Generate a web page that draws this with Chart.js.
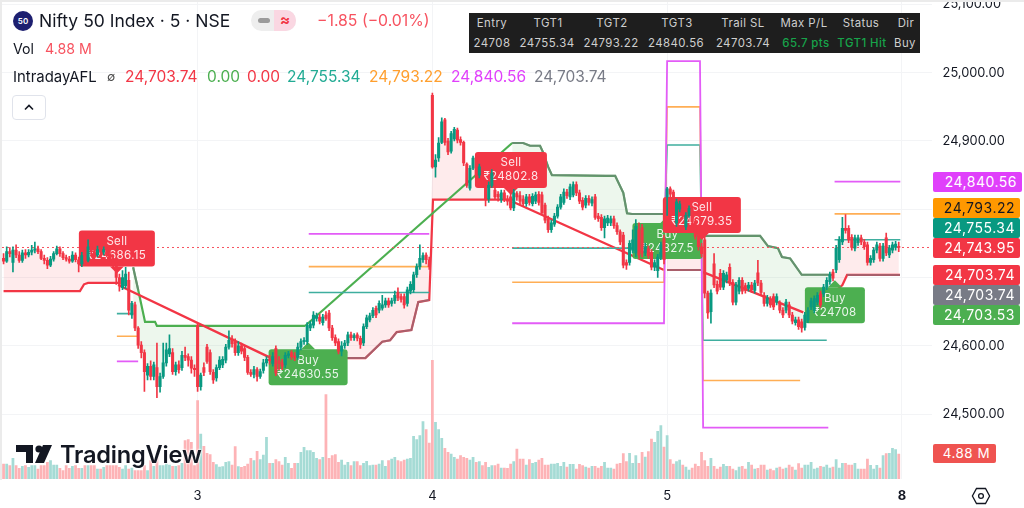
<!DOCTYPE html>
<html>
<head>
<meta charset="utf-8">
<title>Nifty 50 Index · 5 · NSE</title>
<script src="https://cdn.jsdelivr.net/npm/chart.js@4/dist/chart.umd.min.js"></script>
<style>
  html, body { margin: 0; padding: 0; background: #fff; overflow: hidden; }
  body { width: 1024px; height: 508px; position: relative; font-family: Inter, "Noto Sans", sans-serif; color: #131722; }
  canvas { position: absolute; left: 0; top: 0; }
  .edge-top  { position: absolute; left: 0; top: 0; width: 1024px; height: 2px; background: #ebebeb; }
  .edge-left { position: absolute; left: 0; top: 0; width: 2px; height: 480px; background: #ebebeb; }
  .abs { position: absolute; white-space: nowrap; }

  /* legend block */
  .badge { left: 13px; top: 11px; width: 20px; height: 20px; border-radius: 50%; background: #1d1f70; color: #fff;
           font-size: 8px; font-weight: 600; line-height: 20px; text-align: center; }
  .title { left: 39px; top: 10px; font-size: 17.5px; line-height: 22px; color: #131722; }
  .pill  { left: 251px; top: 10px; width: 45px; height: 21px; border-radius: 10.5px; overflow: hidden; background: #eeeeee; }
  .pill i { position: absolute; left: 7px; top: 8px; width: 12px; height: 5px; border-radius: 2.5px; background: #9b9b9b; }
  .pill b { position: absolute; left: 23px; top: 0; width: 22px; height: 21px; background: #fad7e2; color: #f23645;
            font-size: 15px; line-height: 20px; text-align: center; font-weight: 700; }
  .change { left: 317px; top: 12px; font-size: 15.8px; line-height: 18px; color: #f7525f; }
  .vol-name { left: 13px; top: 40px; font-size: 14.2px; line-height: 18px; }
  .vol-val  { left: 45px; top: 40px; font-size: 14.2px; line-height: 18px; color: #f7525f; }
  .ind-row  { left: 13px; top: 68px; font-size: 15.5px; line-height: 18px; }
  .ind-row span { position: absolute; top: 0; }
  .collapse { left: 12px; top: 95px; width: 32px; height: 23px; border: 1px solid #e0e3eb; border-radius: 4px; background: #fff; }

  /* info table */
  .info { left: 469px; top: 13px; width: 451px; height: 40px; background: #1e1e1e; color: #cfcfcf; font-size: 11.4px; letter-spacing: .45px; }
  .info span { position: absolute; transform: translateX(-50%); line-height: 14px; }
  .info .good { color: #17a34a; font-weight: 500; }

  /* price tags */
  .tag { position: absolute; left: 933px; height: 20px; line-height: 20px; border-radius: 2px; color: #fff; font-size: 14px;
         text-align: right; padding-right: 5px; box-sizing: border-box; width: 87px; letter-spacing: .5px; }
  .watermark { left: 60px; top: 440px; font-size: 23.6px; font-weight: 600; line-height: 30px; color: #131722; letter-spacing: -.2px;
               text-shadow: 0 0 2px #fff, 0 0 2px #fff, 0 0 3px #fff; }
</style>
</head>
<body>
<canvas id="chart" width="1024" height="508"></canvas>
<div class="edge-top"></div>
<div class="edge-left"></div>

<div class="abs badge">50</div>
<div class="abs title">Nifty 50 Index · 5 · NSE</div>
<div class="abs pill"><i></i><b>≈</b></div>
<div class="abs change">−1.85 (−0.01%)</div>
<div class="abs vol-name">Vol</div>
<div class="abs vol-val">4.88 M</div>
<div class="abs ind-row">
  <span style="left:0;font-size:14.9px">IntradayAFL</span>
  <span style="left:94px;font-size:12px;color:#444">∅</span>
  <span style="left:112px;color:#f23645">24,703.74</span>
  <span style="left:194px;color:#4caf50">0.00</span>
  <span style="left:234px;color:#f23645">0.00</span>
  <span style="left:274px;color:#22ab94">24,755.34</span>
  <span style="left:356px;color:#ff9f2e">24,793.22</span>
  <span style="left:438px;color:#e040fb">24,840.56</span>
  <span style="left:521px;color:#787b86">24,703.74</span>
</div>
<div class="abs collapse">
  <svg width="32" height="23" viewBox="0 0 32 23"><path d="M12 13.5 L16 9.5 L20 13.5" fill="none" stroke="#131722" stroke-width="1.6"/></svg>
</div>

<div class="abs info">
  <span style="left:23px;top:3px">Entry</span><span style="left:79px;top:3px">TGT1</span><span style="left:143px;top:3px">TGT2</span>
  <span style="left:208px;top:3px">TGT3</span><span style="left:274px;top:3px">Trail SL</span><span style="left:335px;top:3px">Max P/L</span>
  <span style="left:392px;top:3px">Status</span><span style="left:437px;top:3px">Dir</span>
  <span style="left:23px;top:23px">24708</span><span style="left:78px;top:23px">24755.34</span><span style="left:142px;top:23px">24793.22</span>
  <span style="left:207px;top:23px">24840.56</span><span style="left:274px;top:23px">24703.74</span><span class="good" style="left:337px;top:23px">65.7 pts</span>
  <span class="good" style="left:393px;top:23px">TGT1 Hit</span><span style="left:436px;top:23px">Buy</span>
</div>

<div class="tag" style="top:172px;background:#e040fb;width:89px">24,840.56</div>
<div class="tag" style="top:198px;background:#ff9800;color:#131722">24,793.22</div>
<div class="tag" style="top:218px;background:#089981">24,755.34</div>
<div class="tag" style="top:238px;background:#f23645">24,743.95</div>
<div class="tag" style="top:265px;background:#f23645">24,703.74</div>
<div class="tag" style="top:285px;background:#787b86">24,703.74</div>
<div class="tag" style="top:305px;background:#4caf50">24,703.53</div>
<div class="tag" style="top:444px;background:#ef5350;width:63px;height:19px;line-height:19px;padding-right:6px;font-size:13.4px">4.88 M</div>

<svg class="abs" style="left:14px;top:443px" width="42" height="24" viewBox="0 0 42 24">
  <path d="M2 2 H19 V20 H12 V9 H2 Z M38 2 L30 20 H21 L29 2 Z" fill="#131722"/>
  <circle cx="25" cy="6" r="3.6" fill="#131722"/>
</svg>
<div class="abs watermark">TradingView</div>

<svg class="abs" style="left:971px;top:486px" width="20" height="20" viewBox="0 0 20 20">
  <path d="M5.5 2.5 H14.5 L18.6 10 L14.5 17.5 H5.5 L1.4 10 Z" fill="none" stroke="#131722" stroke-width="1.3"/>
  <circle cx="10" cy="10" r="2.4" fill="none" stroke="#131722" stroke-width="1.3"/>
</svg>

<script>
"use strict";

// ── Axis data ─────────────────────────────────────────────
const dayTickBars   = [62, 137, 212, 287];
const dayTickLabels = ["3", "4", "5", "8"];
const priceTicks    = [24500, 24600, 24700, 24800, 24900, 25000, 25100];
const lastPrice     = 24743.95;

// ── Candles (one entry per 5 minute bar) ──────────────────
const opens = [
  24728,24724,24738,24722,24740,24733,24725,24736,24733,24737,
  24740,24742,24738,24728,24725,24718,24727,24735,24742,24735,
  24729,24727,24724,24733,24726,24720,24732,24725,24745,24738,
  24733,24741,24737,24741,24734,24728,24718,24700,24685,24688,
  24696,24645,24660,24626,24601,24590,24557,24570,24555,24568,
  24540,24555,24575,24588,24590,24562,24572,24568,24586,24584,
  24579,24567,24630,24540,24568,24598,24590,24561,24553,24568,
  24572,24579,24598,24610,24605,24590,24600,24596,24583,24561,
  24558,24565,24555,24564,24575,24580,24574,24596,24578,24575,
  24572,24586,24590,24585,24583,24598,24606,24606,24626,24630,
  24640,24642,24634,24645,24648,24626,24612,24606,24592,24600,
  24604,24616,24612,24616,24611,24604,24628,24638,24644,24655,
  24652,24655,24660,24666,24662,24666,24678,24672,24672,24662,
  24680,24682,24704,24716,24726,24733,24726,24967,24862,24875,
  24898,24931,24900,24885,24903,24916,24902,24898,24866,24831,
  24860,24875,24850,24860,24835,24815,24835,24828,24822,24814,
  24824,24815,24818,24802,24823,24820,24815,24808,24818,24808,
  24812,24822,24821,24806,24786,24770,24778,24790,24803,24810,
  24825,24818,24821,24836,24824,24813,24806,24816,24809,24818,
  24790,24788,24773,24780,24780,24786,24776,24767,24762,24722,
  24722,24740,24736,24770,24773,24736,24742,24737,24715,24710,
  24730,24757,24818,24830,24825,24780,24800,24798,24774,24791,
  24800,24782,24760,24745,24755,24677,24650,24720,24690,24706,
  24686,24696,24715,24693,24664,24680,24696,24688,24684,24689,
  24681,24707,24692,24674,24662,24668,24672,24664,24662,24652,
  24652,24660,24645,24634,24638,24635,24627,24638,24657,24652,
  24664,24676,24676,24686,24694,24708,24711,24726,24752,24772,
  24772,24759,24743,24751,24758,24752,24748,24722,24726,24740,
  24746,24728,24758,24733,24740,24744,24745.8
];
const closes = [
  24724,24738,24735,24740,24733,24725,24736,24733,24737,24740,
  24742,24738,24728,24725,24718,24727,24735,24742,24735,24729,
  24727,24724,24733,24726,24720,24732,24725,24745,24738,24733,
  24741,24737,24741,24734,24728,24718,24700,24690,24700,24705,
  24652,24662,24626,24601,24590,24562,24570,24555,24572,24540,
  24555,24575,24594,24596,24562,24572,24565,24586,24583,24579,
  24567,24565,24540,24557,24561,24577,24562,24550,24568,24579,
  24580,24598,24608,24603,24590,24600,24592,24583,24561,24558,
  24565,24555,24562,24575,24580,24578,24584,24560,24574,24570,
  24586,24588,24584,24582,24598,24606,24608,24630,24632,24645,
  24644,24636,24642,24640,24626,24612,24604,24592,24600,24604,
  24616,24612,24615,24611,24602,24628,24641,24644,24652,24645,
  24662,24660,24666,24660,24666,24674,24670,24668,24660,24682,
  24690,24704,24716,24728,24732,24726,24716,24862,24872,24897,
  24928,24898,24884,24911,24917,24901,24898,24868,24835,24860,
  24875,24850,24862,24842,24814,24835,24853,24818,24818,24824,
  24815,24812,24802,24824,24818,24812,24808,24818,24810,24819,
  24821,24810,24795,24784,24770,24780,24790,24803,24818,24825,
  24820,24833,24836,24824,24812,24803,24816,24810,24814,24788,
  24786,24773,24786,24787,24786,24776,24767,24752,24718,24718,
  24750,24755,24775,24733,24736,24745,24732,24715,24722,24730,
  24748,24726,24830,24822,24800,24811,24808,24790,24791,24801,
  24782,24760,24745,24735,24677,24648,24677,24689,24680,24686,
  24706,24704,24693,24664,24689,24696,24680,24681,24689,24682,
  24692,24692,24678,24662,24670,24660,24657,24672,24652,24645,
  24664,24645,24636,24638,24628,24626,24645,24652,24666,24669,
  24674,24660,24686,24696,24704,24699,24743,24755,24772,24769,
  24755,24744,24758,24758,24752,24745,24722,24728,24740,24748,
  24728,24746,24736,24743,24748,24749,24743.95
];
const highs = [
  24735,24745,24744,24745,24748,24738,24740,24741,24741,24747,
  24752,24746,24741,24733,24729,24731,24738,24746,24745,24738,
  24733,24731,24738,24736,24730,24737,24740,24755,24750,24743,
  24746,24745,24745,24744,24738,24731,24722,24705,24710,24715,
  24708,24665,24664,24628,24606,24594,24574,24578,24576,24604,
  24560,24604,24604,24616,24596,24576,24578,24592,24598,24588,
  24584,24572,24632,24560,24575,24602,24594,24565,24572,24584,
  24584,24602,24622,24615,24610,24606,24604,24600,24586,24565,
  24570,24568,24566,24580,24584,24586,24590,24600,24584,24580,
  24590,24592,24593,24590,24604,24610,24612,24634,24636,24650,
  24648,24646,24646,24650,24652,24630,24616,24610,24606,24608,
  24620,24620,24618,24619,24614,24632,24645,24648,24656,24658,
  24666,24674,24670,24670,24670,24680,24685,24676,24676,24686,
  24694,24708,24720,24748,24736,24736,24730,24970,24880,24905,
  24934,24933,24904,24914,24920,24919,24906,24900,24868,24864,
  24878,24878,24866,24864,24840,24840,24858,24832,24826,24828,
  24828,24820,24824,24829,24826,24826,24820,24822,24822,24823,
  24825,24826,24825,24809,24790,24784,24794,24807,24822,24830,
  24829,24837,24840,24840,24828,24817,24820,24820,24818,24822,
  24794,24792,24790,24791,24790,24790,24780,24770,24766,24726,
  24754,24770,24785,24780,24778,24750,24746,24741,24726,24734,
  24752,24762,24832,24833,24828,24815,24812,24802,24795,24805,
  24804,24786,24764,24750,24762,24680,24682,24735,24695,24712,
  24710,24708,24720,24697,24693,24700,24700,24692,24693,24693,
  24696,24725,24696,24678,24674,24672,24676,24676,24666,24656,
  24668,24664,24649,24642,24642,24639,24649,24656,24670,24673,
  24678,24680,24690,24700,24708,24712,24747,24760,24788,24792,
  24776,24763,24762,24762,24762,24756,24752,24732,24744,24752,
  24750,24750,24765,24747,24752,24753,24752
];
const lows = [
  24720,24722,24730,24708,24729,24722,24722,24728,24730,24733,
  24736,24735,24726,24720,24713,24716,24724,24733,24731,24726,
  24724,24721,24722,24723,24708,24716,24722,24723,24733,24728,
  24730,24733,24733,24730,24724,24714,24690,24680,24682,24684,
  24645,24640,24622,24596,24582,24533,24550,24550,24550,24524,
  24532,24552,24570,24584,24558,24557,24560,24564,24578,24570,
  24560,24555,24533,24535,24556,24574,24558,24545,24548,24565,
  24568,24575,24595,24598,24586,24586,24588,24578,24558,24555,
  24553,24548,24552,24560,24570,24573,24570,24556,24565,24565,
  24568,24582,24580,24578,24580,24594,24602,24602,24622,24626,
  24636,24632,24630,24637,24622,24608,24600,24588,24585,24596,
  24600,24608,24608,24607,24596,24600,24625,24635,24641,24641,
  24648,24652,24656,24656,24658,24662,24666,24664,24655,24658,
  24676,24678,24700,24712,24722,24720,24712,24860,24847,24870,
  24896,24894,24880,24882,24900,24897,24894,24864,24832,24828,
  24858,24845,24846,24838,24805,24810,24832,24814,24812,24810,
  24811,24806,24799,24798,24813,24808,24805,24804,24806,24805,
  24808,24806,24792,24780,24766,24766,24775,24787,24800,24807,
  24816,24814,24818,24820,24808,24799,24802,24806,24805,24785,
  24782,24769,24758,24776,24776,24772,24763,24748,24714,24712,
  24718,24736,24730,24728,24730,24732,24728,24711,24710,24700,
  24726,24720,24791,24816,24796,24775,24796,24786,24770,24788,
  24778,24756,24740,24730,24670,24640,24633,24685,24676,24682,
  24682,24692,24688,24660,24660,24676,24676,24677,24680,24678,
  24677,24688,24674,24658,24658,24656,24653,24660,24648,24641,
  24648,24641,24632,24630,24624,24620,24623,24634,24653,24648,
  24660,24656,24672,24682,24690,24695,24707,24722,24748,24765,
  24751,24740,24739,24747,24748,24741,24718,24718,24722,24736,
  24724,24724,24732,24729,24736,24740,24738
];

// ── Volume, millions ──────────────────────────────────────
const volumes = [
  2.93,2.93,2.6,4.03,2.6,2.08,2.47,2.6,2.28,2.6,
  2.6,1.95,2.6,2.6,3.25,3.58,2.73,2.73,2.08,1.63,
  2.6,2.08,2.47,2.6,2.08,2.08,2.6,2.6,2.6,2.6,
  1.95,1.95,2.28,2.6,2.6,2.6,2.6,2.28,1.95,2.6,
  1.95,2.15,1.63,1.63,1.63,2.6,1.63,3.58,2.47,4.55,
  2.6,2.6,2.93,2.73,2.47,2.47,2.6,3.06,7.48,7.67,
  7.15,2.6,15.28,8.78,6.37,5.0,4.75,3.25,2.8,2.34,
  2.41,3.25,3.38,2.73,6.31,2.41,2.28,2.47,2.93,4.03,
  3.58,5.4,3.77,4.68,8.13,3.06,3.06,3.77,3.38,2.73,
  4.23,3.06,2.08,3.06,3.06,5.2,6.18,5.53,5.53,5.2,
  4.03,3.77,4.23,16.45,4.03,4.55,4.75,3.25,3.71,2.73,
  3.25,2.6,3.38,3.38,2.6,3.06,3.45,2.6,2.73,2.73,
  2.93,3.58,2.47,3.58,3.9,4.23,3.58,3.38,3.71,3.9,
  4.03,8.32,7.67,8.45,11.18,9.62,7.02,23.14,11.05,9.62,
  7.93,5.98,5.2,4.88,4.23,3.9,4.55,4.23,4.03,3.71,
  4.23,3.25,3.38,2.6,3.25,2.28,2.6,2.6,2.93,2.15,
  2.15,2.08,2.93,3.38,5.85,3.9,3.9,2.73,3.77,3.06,
  3.25,3.71,4.03,2.73,2.73,2.93,2.93,3.06,2.47,3.25,
  2.34,2.86,2.86,1.95,2.86,2.6,2.34,2.15,2.47,2.47,
  2.15,2.47,3.25,2.15,2.15,1.95,2.93,3.06,4.94,3.38,
  5.0,3.06,4.55,3.06,5.2,4.29,5.33,7.8,7.15,9.3,
  10.4,6.24,8.45,3.77,2.93,3.38,3.71,2.73,2.34,1.76,
  2.15,2.93,2.47,5.2,3.58,2.47,4.03,2.47,1.95,2.34,
  2.86,2.47,2.47,1.95,1.63,2.34,2.47,1.95,3.25,2.73,
  1.95,2.08,2.73,2.73,1.76,1.95,1.63,2.15,2.34,1.95,
  2.15,2.73,2.34,1.76,2.99,2.15,2.73,2.73,3.25,1.95,
  2.15,2.47,2.34,2.73,2.15,2.34,3.77,2.15,3.06,3.06,
  2.73,2.73,3.06,1.95,1.95,1.95,3.9,2.67,1.95,2.67,
  2.15,4.55,4.94,5.0,5.98,5.72,4.88
];

// ── Signal lines: bar position and price pairs, null breaks a line ──
const buyStopBars    = [0, 24.4, 25.7, 27, 36.6, 37, 109, 115.6, 121, 123.5, 125.6, 130.3, 132.5, 136, 137.2, 162.7, 163, 212, 223, 224, 265.6, 268, 269.5, 286.4];
const buyStopPrices  = [24680, 24680, 24690, 24692, 24692, null, 24582, 24582, 24606, 24608, 24620, 24623, 24664, 24667, 24814, 24814, null, 24711, 24711, null, 24679, 24689, 24703.74, 24703.74];

const sellStopBars   = [36.6, 85, 86, 162.7, 211, 212, 223.5, 255.5];
const sellStopPrices = [24689, 24583, null, 24811, 24711, null, 24708, 24649];

const flipUpBars     = [96.3, 162.5];
const flipUpPrices   = [24629, 24897];

const sellTrailBars   = [41.4, 43, 45.2, 48.4, 49, 96.3, 97, 162.5, 166, 168.2, 171.4, 172.3, 174, 175.2, 192.2, 195.4, 198, 199.2, 200.8, 210.7, 211, 223.5, 241.7, 244.2, 247.4, 248.7, 251.3, 255, 265];
const sellTrailPrices = [24715, 24682, 24635, 24635, 24629, 24629, null, 24897, 24897, 24893, 24893, 24884, 24862, 24850, 24849, 24849, 24824, 24794, 24793, 24793, null, 24761, 24761, 24746, 24743, 24730, 24728, 24704, 24704];

const trailBars   = [41.4, 43, 44, 109, 115.6, 121, 123.5, 125.6, 130.3, 132.5, 136, 137, 162.5, 166, 168.2, 171.4, 172.3, 174, 175.2, 192.2, 195.4, 198, 199.2, 200.8, 210.7, 211, 212, 223, 223.2, 223.5, 241.7, 244.2, 247.4, 248.7, 251.3, 255, 265, 266, 269.5, 286.4];
const trailPrices = [24715, 24682, null, 24582, 24582, 24606, 24608, 24620, 24623, 24664, 24667, null, 24897, 24897, 24893, 24893, 24884, 24862, 24850, 24849, 24849, 24824, 24794, 24793, 24793, null, 24711, 24711, null, 24761, 24761, 24746, 24743, 24730, 24728, 24704, 24704, null, 24703.74, 24703.74];

// ── Target levels ─────────────────────────────────────────
const tgt1Bars   = [36.2, 41.5, 42, 97.5, 136, 137, 162.5, 211, 212, 222.5, 223.5, 263, 264, 265.5, 286.5];
const tgt1Prices = [24647, 24647, null, 24678, 24678, null, 24743, 24743, 24894, 24894, 24608, 24608, null, 24755.34, 24755.34];
const tgt2Bars   = [36.2, 43, 44, 97.5, 136, 137, 162.5, 211, 212, 222.5, 223.5, 254.5, 255, 265.5, 286.5];
const tgt2Prices = [24614, 24614, null, 24716, 24716, null, 24693, 24693, 24950, 24950, 24549, 24549, null, 24793.22, 24793.22];
const tgt3Bars   = [36.2, 43, 44, 97.5, 136, 137, 162.5, 211, 212, 222.5, 223.5, 263.5, 264, 265.5, 286.5];
const tgt3Prices = [24577, 24577, null, 24764, 24764, null, 24633, 24633, 25017, 25017, 24480, 24480, null, 24840.56, 24840.56];

// ── Trade labels ──────────────────────────────────────────
const tradeSides  = ["Sell", "Buy", "Sell", "Buy", "Sell", "Buy"];
const tradeTexts  = ["₹24686.15", "₹24630.55", "₹24802.8", "₹24827.5", "₹24679.35", "₹24708"];
const tradeBars   = [36.2, 97.3, 162.1, 212.1, 223.1, 265.6];
const tradePrices = [24706, 24605, 24821, 24790, 24755, 24696];

// ── Colours ───────────────────────────────────────────────
const UP_COLOR   = "#089981";
const DOWN_COLOR = "#f23645";
const UP_VOL     = "#a5dbd5";
const DOWN_VOL   = "#fdb3b6";
const GREEN_LINE = "#4caf50";
const GRID_COLOR = "#f3f4f6";
const FONT_NAME  = "Inter";

// ── Helpers ───────────────────────────────────────────────
function pairs(bars, prices) {
  return bars.map((b, i) => ({ x: b, y: prices[i] }));
}

function plainLine(label, bars, prices, color, width, order, extra) {
  return Object.assign({
    type: "line",
    label: label,
    data: pairs(bars, prices),
    borderColor: color,
    borderWidth: width,
    pointRadius: 0,
    tension: 0,
    fill: false,
    order: order,
  }, extra || {});
}

// the axis labels may not push the plot area in from the canvas edges
function noMargins(scale) {
  scale.paddingTop = scale.paddingBottom = scale.paddingLeft = scale.paddingRight = 0;
}

const barIndex   = opens.map((_, i) => i);
const isUp       = opens.map((o, i) => closes[i] >= o);
const candleFill = isUp.map(up => up ? UP_COLOR : DOWN_COLOR);

// closes stays first: the fills below point at dataset 0
const CLOSE_PATH = 0;
const WICK_ORDER = 2;

const datasets = [
  plainLine("closes", barIndex, closes, "transparent", 0, 35),
  plainLine("buy stop", buyStopBars, buyStopPrices, DOWN_COLOR, 2.2, 30, {
    fill: { target: CLOSE_PATH, above: "rgba(242,54,69,0.1)", below: "rgba(242,54,69,0.1)" },
  }),
  plainLine("sell trail", sellTrailBars, sellTrailPrices, GREEN_LINE, 2.2, 30, {
    fill: { target: CLOSE_PATH, above: "rgba(76,175,80,0.1)", below: "rgba(76,175,80,0.1)" },
  }),
  plainLine("sell stop", sellStopBars, sellStopPrices, DOWN_COLOR, 2.4, 28),
  plainLine("flip", flipUpBars, flipUpPrices, GREEN_LINE, 2.2, 28),
  plainLine("trail", trailBars, trailPrices, "rgba(120,123,134,0.6)", 2, 26),
  plainLine("tgt1", tgt1Bars, tgt1Prices, "#3fae9f", 1.6, 24),
  plainLine("tgt2", tgt2Bars, tgt2Prices, "#ffae55", 1.6, 23),
  plainLine("tgt3", tgt3Bars, tgt3Prices, "#e35cf7", 1.8, 22),
  plainLine("last", [-0.5, 296.5], [lastPrice, lastPrice], "#f7525f", 1, 20, { borderDash: [2, 3] }),
  {
    type: "bar",
    label: "volume",
    yAxisID: "y2",
    data: barIndex.map(i => ({ x: i, y: volumes[i] })),
    backgroundColor: isUp.map(up => up ? UP_VOL : DOWN_VOL),
    barThickness: 2.1,
    grouped: false,
    order: 40,
  },
  {
    type: "bar",
    label: "wicks",
    data: barIndex.map(i => ({ x: i, y: [lows[i], highs[i]] })),
    backgroundColor: candleFill,
    barThickness: 1,
    grouped: false,
    order: WICK_ORDER,
  },
  {
    type: "bar",
    label: "bodies",
    data: barIndex.map(i => ({ x: i, y: [opens[i], closes[i]] })),
    backgroundColor: candleFill,
    barThickness: 2.4,
    grouped: false,
    order: 1,
  },
];

// ── Trade labels sit above the lines but under the candles ─
const tradeLabels = {
  id: "tradeLabels",
  beforeDatasetDraw(chart, args) {
    if (chart.data.datasets[args.index].label !== "wicks") return;
    const { ctx, scales } = chart;
    ctx.save();
    tradeSides.forEach((side, i) => {
      const tipX = scales.x.getPixelForValue(tradeBars[i]);
      const tipY = scales.y.getPixelForValue(tradePrices[i]);
      const sell = side === "Sell";
      ctx.font = "11.6px " + FONT_NAME;
      ctx.letterSpacing = "0.3px";
      const w = Math.round(ctx.measureText(tradeTexts[i]).width) + 17;
      const h = 36;
      const top = sell ? tipY - 7 - h : tipY + 7;
      ctx.fillStyle = sell ? DOWN_COLOR : GREEN_LINE;
      ctx.beginPath();
      ctx.roundRect(tipX - w / 2, top, w, h, 3);
      ctx.fill();
      ctx.beginPath();
      ctx.moveTo(tipX - 7, sell ? top + h : top);
      ctx.lineTo(tipX, tipY);
      ctx.lineTo(tipX + 7, sell ? top + h : top);
      ctx.fill();
      ctx.fillStyle = "rgba(255,255,255,0.88)";
      ctx.textAlign = "center";
      ctx.textBaseline = "middle";
      ctx.font = "11.5px " + FONT_NAME;
      ctx.fillText(side, tipX, top + 11);
      ctx.font = "11.6px " + FONT_NAME;
      ctx.fillText(tradeTexts[i], tipX, top + 25);
    });
    ctx.restore();
  },
};

// ── Chart ─────────────────────────────────────────────────
new Chart(document.getElementById("chart").getContext("2d"), {
  type: "bar",
  data: { datasets: datasets },
  plugins: [tradeLabels],
  options: {
    responsive: false,
    animation: false,
    devicePixelRatio: 1,
    layout: { padding: { left: 2, top: 2, right: 0, bottom: 0 } },
    plugins: {
      legend: { display: false },
      tooltip: { enabled: false },
    },
    scales: {
      x: {
        type: "linear",
        offset: false,
        min: -0.5,
        max: 296.5,
        afterBuildTicks: s => { s.ticks = dayTickBars.map(v => ({ value: v })); },
        afterFit: s => { s.height = 29; noMargins(s); },
        grid: { color: GRID_COLOR, offset: false, drawTicks: false },
        border: { display: false },
        ticks: {
          autoSkip: false,
          maxRotation: 0,
          padding: 9,
          color: "#131722",
          font: ctx => ({ family: FONT_NAME, size: 13, weight: ctx.tick && ctx.tick.value === 287 ? "bold" : "normal" }),
          callback: v => dayTickLabels[dayTickBars.indexOf(v)],
        },
      },
      y: {
        type: "linear",
        position: "right",
        min: 24404.8,
        max: 25103.6,
        afterBuildTicks: s => { s.ticks = priceTicks.map(v => ({ value: v })); },
        afterFit: s => { s.width = 92.4; noMargins(s); },
        grid: { color: GRID_COLOR, drawTicks: false },
        border: { display: false },
        ticks: {
          autoSkip: false,
          padding: 11,
          color: "#131722",
          font: { family: FONT_NAME, size: 12.8 },
          callback: v => v.toLocaleString("en-US", { minimumFractionDigits: 2 }),
        },
      },
      y2: {
        type: "linear",
        display: false,
        min: 0,
        max: 93,
      },
    },
  },
});
</script>
</body>
</html>
